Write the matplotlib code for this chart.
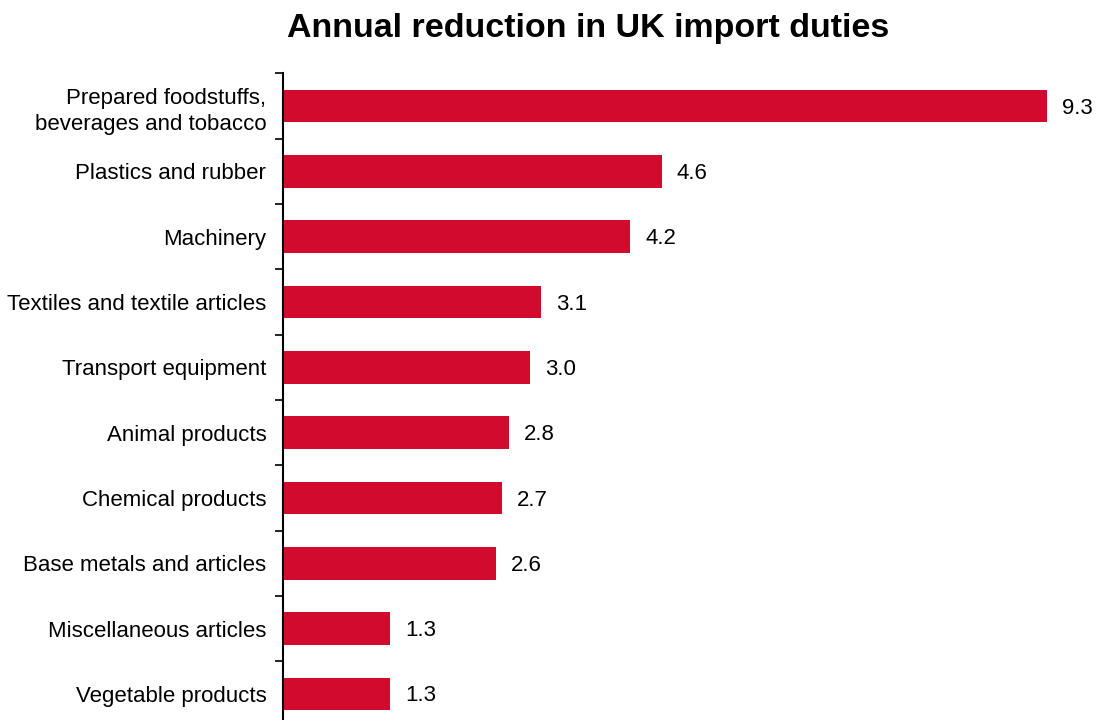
import matplotlib.pyplot as plt
from matplotlib.ticker import FixedLocator

plt.rcParams['font.family'] = ['Liberation Sans', 'DejaVu Sans']

categories = ['Prepared foodstuffs,\nbeverages and tobacco', 'Plastics and rubber',
              'Machinery', 'Textiles and textile articles', 'Transport equipment',
              'Animal products', 'Chemical products', 'Base metals and articles',
              'Miscellaneous articles', 'Vegetable products']
values = [9.3, 4.61, 4.23, 3.14, 3.01, 2.75, 2.66, 2.59, 1.3, 1.3]
bar_color = '#D20A2E'

fig = plt.figure(figsize=(10.96, 7.2), dpi=100)
# axes spans from the left spine to the right edge, and past the bottom of the figure
ax = fig.add_axes([283 / 1096, 0.0, 1 - 283 / 1096, (720 - 73.5) / 720])

pos = list(range(len(categories)))
ax.barh(pos, values, height=0.5, color=bar_color)
for p, v in zip(pos, values):
    ax.annotate(f'{v:.1f}', (v, p), xytext=(11, -1.5), textcoords='offset points',
                va='center', ha='left', fontsize=16)

ax.set_xlim(0, (1096 - 283) / 82.15)
ax.set_ylim(9.40, -0.5)
ax.set_yticks(pos)
ax.set_yticklabels(categories, fontsize=16, ha='right', linespacing=1.35)
ax.tick_params(axis='y', which='major', length=0, pad=12)
ax.yaxis.set_minor_locator(FixedLocator([i - 0.5 for i in range(len(categories))]))
ax.tick_params(axis='y', which='minor', length=6, width=1.2)
ax.set_xticks([])
for s in ['top', 'right', 'bottom']:
    ax.spines[s].set_visible(False)
ax.spines['left'].set_linewidth(1.5)

fig.text(0.537, 0.961, 'Annual reduction in UK import duties', ha='center', va='center',
         fontsize=24.5, fontweight='bold')

fig.savefig('out.png', dpi=100)
